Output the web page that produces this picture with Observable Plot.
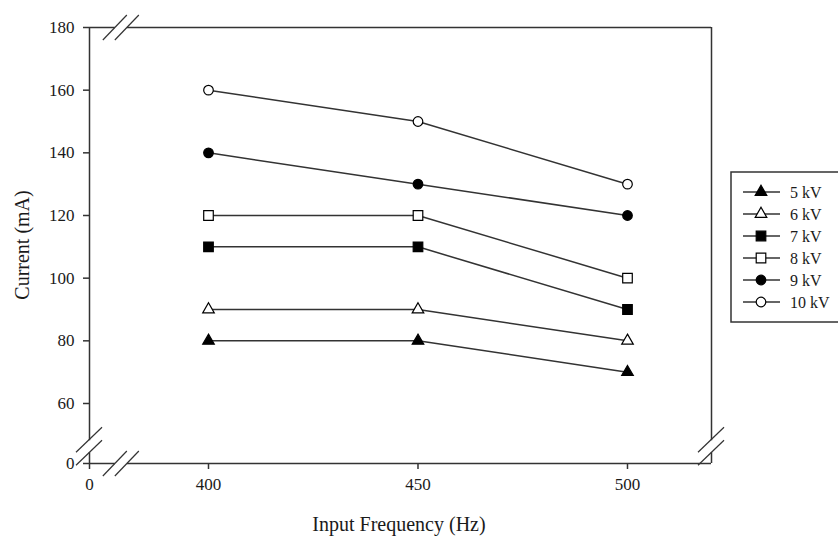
<!DOCTYPE html>
<html>
<head>
<meta charset="utf-8">
<script src="https://cdn.jsdelivr.net/npm/d3@7"></script>
<script src="https://cdn.jsdelivr.net/npm/@observablehq/plot@0.6"></script>
<style>
  html, body { margin: 0; padding: 0; background: #fff; }
  #chart { position: relative; width: 838px; height: 538px; overflow: hidden; }
</style>
</head>
<body>
<div id="chart"></div>
<script>
// ---- data ----
const frequencies = [400, 450, 500];
const seriesNames = ["5 kV", "6 kV", "7 kV", "8 kV", "9 kV", "10 kV"];
const current5kV  = [80, 80, 70];
const current6kV  = [90, 90, 80];
const current7kV  = [110, 110, 90];
const current8kV  = [120, 120, 100];
const current9kV  = [140, 130, 120];
const current10kV = [160, 150, 130];
const seriesValues = [current5kV, current6kV, current7kV, current8kV, current9kV, current10kV];
const seriesSymbols = ["triangle", "triangle", "square", "square", "circle", "circle"];
const seriesFilled  = [true, false, true, false, true, false];

// axis ticks (broken axes: the "0" tick sits at the start of the broken axis)
const xAxisStart = 371.6, xAxisEnd = 520.05;
const yAxisStart = 40.85, yAxisEnd = 180;
const xTickValues = [xAxisStart, 400, 450, 500];
const xTickLabels = ["0", "400", "450", "500"];
const yTickValues = [yAxisStart, 60, 80, 100, 120, 140, 160, 180];
const yTickLabels = ["0", "60", "80", "100", "120", "140", "160", "180"];

const rows = [];
seriesNames.forEach((name, i) => {
  frequencies.forEach((f, j) => {
    rows.push({series: name, freq: f, current: seriesValues[i][j],
               symbol: seriesSymbols[i], filled: seriesFilled[i]});
  });
});

const ink = "#333";
const symSize = {triangle: 4.3, square: 5.4, circle: 4.8};

const plot = Plot.plot({
  width: 838,
  height: 538,
  marginLeft: 89,
  marginRight: 127,
  marginTop: 27,
  marginBottom: 75,
  style: {fontFamily: "'Liberation Serif', 'Times New Roman', serif", fontSize: "17px", color: "#1a1a1a", background: "#fff"},
  x: {domain: [xAxisStart, xAxisEnd], label: null},
  y: {domain: [yAxisStart, yAxisEnd], label: null},
  marks: [
    Plot.axisX({ticks: xTickValues, tickFormat: (d) => xTickLabels[xTickValues.indexOf(d)],
                tickSize: 6, tickPadding: 8, stroke: ink, strokeWidth: 1.5, fontSize: 17}),
    Plot.axisY({ticks: yTickValues, tickFormat: (d) => yTickLabels[yTickValues.indexOf(d)],
                tickSize: 6, tickPadding: 9, stroke: ink, strokeWidth: 1.5, fontSize: 17}),
    // axis frame lines
    Plot.ruleX([xAxisStart], {stroke: ink, strokeWidth: 1.5}),
    Plot.ruleX([xAxisEnd], {stroke: ink, strokeWidth: 1.5}),
    Plot.ruleY([yAxisStart], {stroke: ink, strokeWidth: 1.5}),
    Plot.ruleY([yAxisEnd], {stroke: ink, strokeWidth: 1.5}),
    Plot.line(rows, {x: "freq", y: "current", z: "series", stroke: ink, strokeWidth: 1.5}),
    ...["triangle", "square", "circle"].map(s =>
      Plot.dot(rows.filter(d => d.symbol === s), {
        x: "freq", y: "current", symbol: () => s, r: symSize[s],
        fill: d => d.filled ? "#000" : "#fff", stroke: "#000", strokeWidth: 1.2
      })
    )
  ]
});

document.getElementById("chart").appendChild(plot);

const svg = d3.select(plot);
svg.selectAll("g[aria-label$='tick label'], g[aria-label$='tick label'] text").style("font-size", "17px");
const xs = plot.scale("x"), ys = plot.scale("y");
const xL = xs.apply(xAxisStart), xR = xs.apply(xAxisEnd);
const yB = ys.apply(yAxisStart), yT = ys.apply(yAxisEnd);

// axis break marks: pairs of parallel slashes with a white gap between
function breakH(cx, cy) { // break on a horizontal line
  const g = svg.append("g");
  g.append("rect").attr("x", cx - 6).attr("y", cy - 3).attr("width", 12).attr("height", 6).attr("fill", "#fff");
  [-6, 6].forEach(o => g.append("line")
    .attr("x1", cx + o - 12).attr("y1", cy + 13).attr("x2", cx + o + 12).attr("y2", cy - 12)
    .attr("stroke", ink).attr("stroke-width", 1.2));
}
function breakV(cx, cy) { // break on a vertical line
  const g = svg.append("g");
  g.append("rect").attr("x", cx - 3).attr("y", cy - 6).attr("width", 6).attr("height", 12).attr("fill", "#fff");
  [-6.5, 6.5].forEach(o => g.append("line")
    .attr("x1", cx - 13).attr("y1", cy + o + 12.5).attr("x2", cx + 13).attr("y2", cy + o - 12.5)
    .attr("stroke", ink).attr("stroke-width", 1.2));
}
const xBreak = 379.2, yBreak = 46.2;
breakH(xs.apply(xBreak), yT);
breakH(xs.apply(xBreak), yB);
breakV(xL, ys.apply(yBreak));
breakV(xR, ys.apply(yBreak));

// axis titles
svg.append("text").attr("x", (xL + xR) / 2 - 1).attr("y", 531).attr("text-anchor", "middle")
  .attr("font-size", 20).attr("fill", "#1a1a1a").text("Input Frequency (Hz)");
svg.append("text").attr("transform", `translate(29,245) rotate(-90)`)
  .attr("text-anchor", "middle").attr("font-size", 20).attr("fill", "#1a1a1a").text("Current (mA)");

// legend
const lg = svg.append("g");
lg.append("rect").attr("x", 731).attr("y", 172).attr("width", 130).attr("height", 150)
  .attr("fill", "#fff").attr("stroke", ink).attr("stroke-width", 1.5);
seriesNames.forEach((name, i) => {
  const y = 192 + i * 22;
  lg.append("line").attr("x1", 743).attr("x2", 780).attr("y1", y).attr("y2", y)
    .attr("stroke", ink).attr("stroke-width", 1.5);
  const s = seriesSymbols[i];
  const sym = {triangle: d3.symbolTriangle, square: d3.symbolSquare, circle: d3.symbolCircle}[s];
  const r = symSize[s];
  lg.append("path").attr("d", d3.symbol(sym, r * r * Math.PI)())
    .attr("transform", `translate(761,${y})`)
    .attr("fill", seriesFilled[i] ? "#000" : "#fff").attr("stroke", "#000").attr("stroke-width", 1.2);
  lg.append("text").attr("x", 790).attr("y", y).attr("dy", "0.35em").attr("text-anchor", "start")
    .attr("font-size", 16).attr("fill", "#1a1a1a").text(name);
});
</script>
</body>
</html>
